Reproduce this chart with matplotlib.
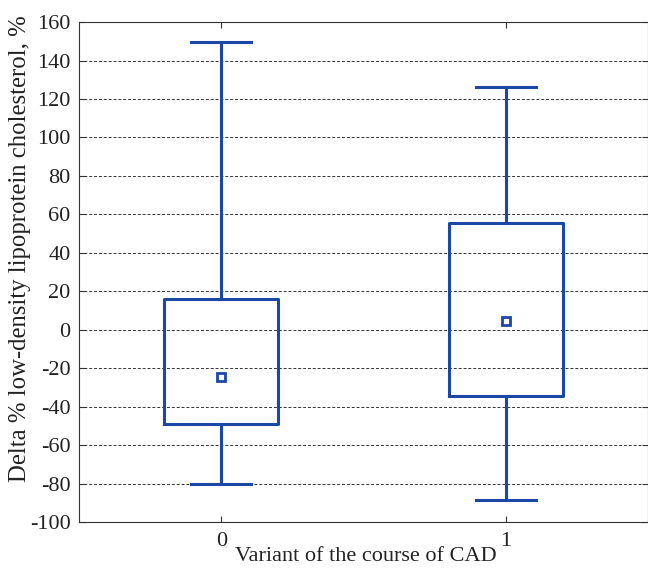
import matplotlib
matplotlib.use("Agg")
import matplotlib.pyplot as plt

# ── Data ──────────────────────────────────────────────────────────────────────
groups = ["0", "1"]
whisker_low = [-80, -88.5]
q1 = [-49, -34.5]
median = [-24.5, 4.5]
q3 = [16, 55.5]
whisker_high = [149.5, 126.5]

BLUE = "#1a48a4"
TEXT = "#222222"
plt.rcParams["font.family"] = ["Liberation Serif", "DejaVu Serif"]
plt.rcParams["axes.unicode_minus"] = False

fig = plt.figure(figsize=(6.48, 5.68), dpi=100)
ax = fig.add_axes([0.122, 0.081, 0.878, 0.880])

stats = []
for i, g in enumerate(groups):
    stats.append(dict(label=g, whislo=whisker_low[i], q1=q1[i], med=median[i],
                      q3=q3[i], whishi=whisker_high[i], fliers=[]))

pos = list(range(len(groups)))
ax.bxp(stats, positions=pos, widths=0.4, showfliers=False, patch_artist=False,
       boxprops=dict(color=BLUE, linewidth=2.2),
       whiskerprops=dict(color=BLUE, linewidth=2.2),
       capprops=dict(color=BLUE, linewidth=2.2),
       capwidths=0.21,
       medianprops=dict(linewidth=0))
ax.plot(pos, median, linestyle="none", marker="s", markersize=6,
        markerfacecolor="white", markeredgecolor=BLUE, markeredgewidth=2.0, zorder=5)

ax.set_xlim(-0.5, 1.5)
ax.set_ylim(-100, 160)
ax.set_yticks(range(-100, 161, 20))
ax.set_xticks(pos)
ax.set_xticklabels(groups)
ax.tick_params(direction="in", labelsize=16, labelcolor=TEXT, top=True, right=True,
               length=4, color="#333333")
ax.tick_params(axis="y", pad=6)
ax.tick_params(axis="x", pad=7)
for s in ax.spines.values():
    s.set_color("#333333")
for y in range(-80, 160, 20):
    ax.axhline(y, color="#333333", linestyle=(0, (3, 2)), linewidth=0.7, zorder=0)

# axis titles placed by hand: the y title sits above the axes centre in the reference
fig.text(0.565, 0.003, "Variant of the course of CAD", fontsize=16, color=TEXT,
         ha="center", va="bottom")
fig.text(0.031, 0.563, "Delta % low-density lipoprotein cholesterol, %", fontsize=17.8,
         color=TEXT, rotation=90, ha="center", va="center")

fig.savefig("out.png", dpi=100)
